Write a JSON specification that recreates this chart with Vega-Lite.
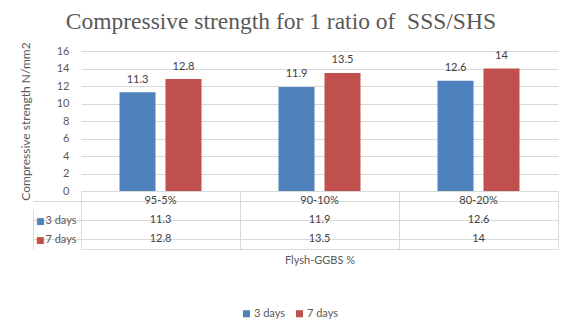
{
  "$schema": "https://vega.github.io/schema/vega-lite/v6.json",
  "background": "white",
  "padding": {"left": 19, "top": 10, "right": 5, "bottom": 5},
  "title": {"text": "Compressive strength for 1 ratio of \u00a0SSS/SHS", "font": "Liberation Serif", "fontSize": 23.5, "fontWeight": "normal", "color": "#595959", "anchor": "middle", "offset": 8, "dx": -8},
  "datasets": {
    "d": [
      {"cat": "95-5%", "series": "3 days", "value": 11.3},
      {"cat": "95-5%", "series": "7 days", "value": 12.8},
      {"cat": "90-10%", "series": "3 days", "value": 11.9},
      {"cat": "90-10%", "series": "7 days", "value": 13.5},
      {"cat": "80-20%", "series": "3 days", "value": 12.6},
      {"cat": "80-20%", "series": "7 days", "value": 14}
    ]
  },
  "spacing": 0,
  "bounds": "flush",
  "vconcat": [
    {
      "width": 477,
      "height": 140,
      "view": {"stroke": null},
      "data": {"name": "d"},
      "encoding": {
        "x": {"field": "cat", "type": "nominal", "sort": ["95-5%", "90-10%", "80-20%"], "scale": {"paddingInner": 0, "paddingOuter": 0}, "axis": null},
        "xOffset": {"field": "series", "type": "nominal", "sort": ["3 days", "7 days"], "scale": {"paddingInner": 0.217, "paddingOuter": 0.837}},
        "y": {"field": "value", "type": "quantitative", "scale": {"domain": [0, 16]},
          "axis": {"values": [0, 2, 4, 6, 8, 10, 12, 14, 16], "title": "Compressive strength N/mm2", "grid": true, "gridColor": "#d9d9d9", "domain": false, "ticks": false, "labelPadding": 12, "labelColor": "#595959", "labelFontSize": 11, "titleColor": "#595959", "titleFontSize": 12, "titleFontWeight": "normal", "titlePadding": 24}}
      },
      "layer": [
        {"mark": {"type": "bar"},
          "encoding": {"color": {"field": "series", "type": "nominal", "scale": {"domain": ["3 days", "7 days"], "range": ["#4F81BD", "#C0504D"]},
            "legend": {"orient": "none", "legendX": 160, "legendY": 257, "direction": "horizontal", "title": null, "symbolType": "square", "symbolSize": 50, "labelFontSize": 11, "labelColor": "#595959", "columnPadding": 8, "labelOffset": 2}}}},
        {"mark": {"type": "text", "dy": -9.5, "baseline": "alphabetic", "fontSize": 11, "color": "#404040"},
          "encoding": {"text": {"field": "value", "type": "quantitative"}}}
      ]
    },
    {
      "width": 477,
      "height": 58,
      "view": {"stroke": "#d9d9d9"},
      "data": {"name": "d"},
      "encoding": {
        "x": {"field": "cat", "type": "nominal", "sort": ["95-5%", "90-10%", "80-20%"], "scale": {"paddingInner": 0, "paddingOuter": 0},
          "axis": {"labels": false, "ticks": false, "domain": false, "grid": true, "tickBand": "extent", "gridColor": "#d9d9d9", "title": "Flysh-GGBS %", "titleColor": "#595959", "titleFontSize": 11, "titleFontWeight": "normal", "titlePadding": 5}}
      },
      "layer": [
        {"transform": [{"filter": "datum.series == '3 days'"}],
          "mark": {"type": "text", "fontSize": 11, "color": "#404040"},
          "encoding": {
            "y": {"datum": "hdr", "type": "nominal", "scale": {"domain": ["hdr", "3 days", "7 days"], "paddingInner": 0, "paddingOuter": 0}, "axis": null},
            "text": {"field": "cat", "type": "nominal"}}},
        {"mark": {"type": "text", "fontSize": 11, "color": "#404040"},
          "encoding": {
            "y": {"field": "series", "type": "nominal", "scale": {"domain": ["hdr", "3 days", "7 days"], "paddingInner": 0, "paddingOuter": 0},
              "axis": {"orient": "left", "title": null, "labelExpr": "datum.value == 'hdr' ? '' : datum.value", "labelPadding": -43, "ticks": true, "tickSize": 48, "tickColor": "#d9d9d9", "bandPosition": 1, "grid": true, "gridColor": "#d9d9d9", "domain": false, "labelColor": "#595959", "labelFontSize": 11}},
            "text": {"field": "value", "type": "quantitative"}}},
        {"mark": {"type": "text", "opacity": 0},
          "encoding": {
            "y": {"field": "series", "type": "nominal", "scale": {"domain": ["hdr", "3 days", "7 days"], "paddingInner": 0, "paddingOuter": 0},
              "axis": {"orient": "left", "offset": 48, "title": null, "labelExpr": "datum.value == 'hdr' ? '' : '■'", "labelFont": "DejaVu Sans", "labelFontSize": 9, "labelPadding": -11, "ticks": false, "grid": false,
                "domain": true, "domainColor": "#d9d9d9", "domainDash": [0, 19, 39, 0],
                "labelColor": {"condition": {"test": "datum.value == '3 days'", "value": "#4F81BD"}, "value": "#C0504D"}}},
            "text": {"field": "value", "type": "quantitative"}}}
      ],
      "resolve": {"axis": {"y": "independent"}}
    }
  ],
  "config": {
    "font": "Lato",
    "axis": {"labelFont": "Lato", "titleFont": "Lato"},
    "legend": {"labelFont": "Lato"},
    "text": {"font": "Lato"}
  }
}
